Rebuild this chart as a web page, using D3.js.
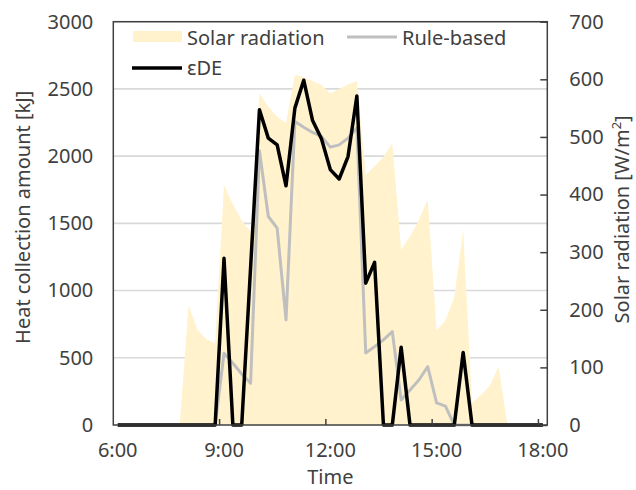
<!DOCTYPE html>
<html>
<head>
<meta charset="utf-8">
<script src="https://cdn.jsdelivr.net/npm/d3@7/dist/d3.min.js"></script>
<style>
    body { margin: 0; background: #fff; }
    text { font-family: "Noto Sans", sans-serif; fill: #404040; }
</style>
</head>
<body>
<div id="chart"></div>
<script>

// categories, every 15 minutes
var times = [
    "6:00", "6:15", "6:30", "6:45", "7:00", "7:15", "7:30", "7:45",
    "8:00", "8:15", "8:30", "8:45", "9:00", "9:15", "9:30", "9:45",
    "10:00", "10:15", "10:30", "10:45", "11:00", "11:15", "11:30", "11:45",
    "12:00", "12:15", "12:30", "12:45", "13:00", "13:15", "13:30", "13:45",
    "14:00", "14:15", "14:30", "14:45", "15:00", "15:15", "15:30", "15:45",
    "16:00", "16:15", "16:30", "16:45", "17:00", "17:15", "17:30", "17:45",
    "18:00"
];

// solar radiation [W/m2]
var solar = [
    0, 0, 0, 0, 0, 0, 0, 0,
    208, 165, 149, 142, 416, 383, 355, 336,
    576, 553, 535, 524, 608, 603, 597, 590,
    576, 583, 591, 597, 434, 449, 465, 489,
    304, 327, 356, 392, 164, 182, 222, 339,
    38, 52, 68, 101, 0, 0, 0, 0,
    0
];

// heat collection amount [kJ], rule-based control
var ruleBased = [
    0, 0, 0, 0, 0, 0, 0, 0,
    0, 0, 0, 0, 534, 459, 380, 310,
    2040, 1551, 1464, 782, 2258, 2215, 2176, 2146,
    2067, 2084, 2134, 2210, 536, 583, 633, 695,
    186, 261, 335, 434, 165, 140, 0, 0,
    0, 0, 0, 0, 0, 0, 0, 0,
    0
];

// heat collection amount [kJ], eDE
var edE = [
    0, 0, 0, 0, 0, 0, 0, 0,
    0, 0, 0, 0, 1240, 0, 0, 1170,
    2345, 2134, 2084, 1779, 2357, 2565, 2265, 2130,
    1900, 1830, 1997, 2447, 1055, 1210, 0, 0,
    578, 0, 0, 0, 0, 0, 0, 540,
    0, 0, 0, 0, 0, 0, 0, 0,
    0
];

var heatTicks = [0, 500, 1000, 1500, 2000, 2500, 3000];
var solarTicks = [0, 100, 200, 300, 400, 500, 600, 700];
var timeTicks = ["6:00", "9:00", "12:00", "15:00", "18:00"];

var iWidth = 636;
var iHeight = 490;
var oPlot = { iLeft: 113.3, iRight: 547.3, iTop: 21.7, iBottom: 425 };

var sAxisColor = "#404040";

var dSVG = d3
    .select("#chart")
    .append("svg")
    .attr("width", iWidth)
    .attr("height", iHeight);

var x = d3.scaleBand().domain(times).range([oPlot.iLeft, oPlot.iRight]).padding(0);
var yHeat = d3.scaleLinear().domain([0, 3000]).range([oPlot.iBottom, oPlot.iTop]);
var ySolar = d3.scaleLinear().domain([0, 700]).range([oPlot.iBottom, oPlot.iTop]);

var fCenter = function(i) { return x(times[i]) + x.bandwidth() / 2; };

// gridlines (behind the area)
dSVG.append("g")
    .selectAll("line")
    .data(heatTicks.slice(1))
    .enter().append("line")
    .attr("x1", oPlot.iLeft)
    .attr("x2", oPlot.iRight)
    .attr("y1", function(d) { return yHeat(d); })
    .attr("y2", function(d) { return yHeat(d); })
    .style("stroke", "#d9d9d9")
    .style("stroke-width", 1.6);

// solar radiation area
var area = d3.area()
    .x(function(d, i) { return fCenter(i); })
    .y0(ySolar(0))
    .y1(function(d) { return ySolar(d); });

dSVG.append("path")
    .datum(solar)
    .attr("d", area)
    .style("fill", "#fff2cc")
    .style("stroke", "none");

var line = d3.line()
    .x(function(d, i) { return fCenter(i); })
    .y(function(d) { return yHeat(d); });

dSVG.append("path")
    .datum(ruleBased)
    .attr("d", line)
    .style("fill", "none")
    .style("stroke", "#bfbfbf")
    .style("stroke-width", 3)
    .style("stroke-linejoin", "round");

dSVG.append("path")
    .datum(edE)
    .attr("d", line)
    .style("fill", "none")
    .style("stroke", "#000")
    .style("stroke-width", 3.5)
    .style("stroke-linejoin", "round");

// frame
dSVG.append("rect")
    .attr("x", oPlot.iLeft)
    .attr("y", oPlot.iTop)
    .attr("width", oPlot.iRight - oPlot.iLeft)
    .attr("height", oPlot.iBottom - oPlot.iTop)
    .style("fill", "none")
    .style("stroke", sAxisColor)
    .style("stroke-width", 1.5);

// left axis
var gLeft = dSVG.append("g")
    .attr("transform", "translate(" + oPlot.iLeft + ",0)")
    .call(d3.axisLeft(yHeat).tickValues(heatTicks).tickFormat(d3.format("d")).tickSize(0).tickPadding(20));
gLeft.select(".domain").remove();

// right axis
var gRight = dSVG.append("g")
    .attr("transform", "translate(" + oPlot.iRight + ",0)")
    .call(d3.axisRight(ySolar).tickValues(solarTicks).tickFormat(d3.format("d")).tickSize(-7).tickPadding(22));
gRight.select(".domain").remove();
gRight.selectAll(".tick line").style("stroke", sAxisColor).style("stroke-width", 1.5);

// bottom axis, labels in the middle of the category, ticks on the boundary
var gBottom = dSVG.append("g")
    .attr("transform", "translate(0," + oPlot.iBottom + ")")
    .call(d3.axisBottom(x).tickValues(timeTicks).tickSize(0).tickPadding(18));
gBottom.select(".domain").remove();

dSVG.append("g")
    .selectAll("line")
    .data(timeTicks.slice(1))
    .enter().append("line")
    .attr("x1", function(d) { return x(d); })
    .attr("x2", function(d) { return x(d); })
    .attr("y1", oPlot.iBottom)
    .attr("y2", oPlot.iBottom - 6)
    .style("stroke", sAxisColor)
    .style("stroke-width", 1.5);

dSVG.selectAll(".tick text")
    .style("font-family", "'Noto Sans', sans-serif")
    .style("font-size", "20px")
    .style("fill", "#404040");

// axis titles
dSVG.append("text")
    .attr("transform", "translate(30," + ((oPlot.iTop + oPlot.iBottom) / 2 - 6) + ") rotate(-90)")
    .attr("text-anchor", "middle")
    .style("font-size", "20px")
    .text("Heat collection amount [kJ]");

var dRightTitle = dSVG.append("text")
    .attr("transform", "translate(629," + ((oPlot.iTop + oPlot.iBottom) / 2 - 4) + ") rotate(-90)")
    .attr("text-anchor", "middle")
    .style("font-size", "20px");
dRightTitle.append("tspan").text("Solar radiation [W/m");
dRightTitle.append("tspan").attr("dy", -8).style("font-size", "13px").text("2");
dRightTitle.append("tspan").attr("dy", 8).text("]");

dSVG.append("text")
    .attr("x", (oPlot.iLeft + oPlot.iRight) / 2)
    .attr("y", 484)
    .attr("text-anchor", "middle")
    .style("font-size", "20px")
    .text("Time");

// legend
var gLegend = dSVG.append("g");

gLegend.append("rect")
    .attr("x", 133).attr("y", 31).attr("width", 49).attr("height", 11)
    .style("fill", "#fff2cc");
gLegend.append("text").attr("x", 187).attr("y", 45).style("font-size", "20px").text("Solar radiation");

gLegend.append("line")
    .attr("x1", 347).attr("x2", 397).attr("y1", 37).attr("y2", 37)
    .style("stroke", "#bfbfbf").style("stroke-width", 3);
gLegend.append("text").attr("x", 402).attr("y", 45).style("font-size", "20px").text("Rule-based");

gLegend.append("line")
    .attr("x1", 132).attr("x2", 182).attr("y1", 68).attr("y2", 68)
    .style("stroke", "#000").style("stroke-width", 3.5);
gLegend.append("text").attr("x", 187).attr("y", 75).style("font-size", "20px").text("εDE");

</script>
</body>
</html>
